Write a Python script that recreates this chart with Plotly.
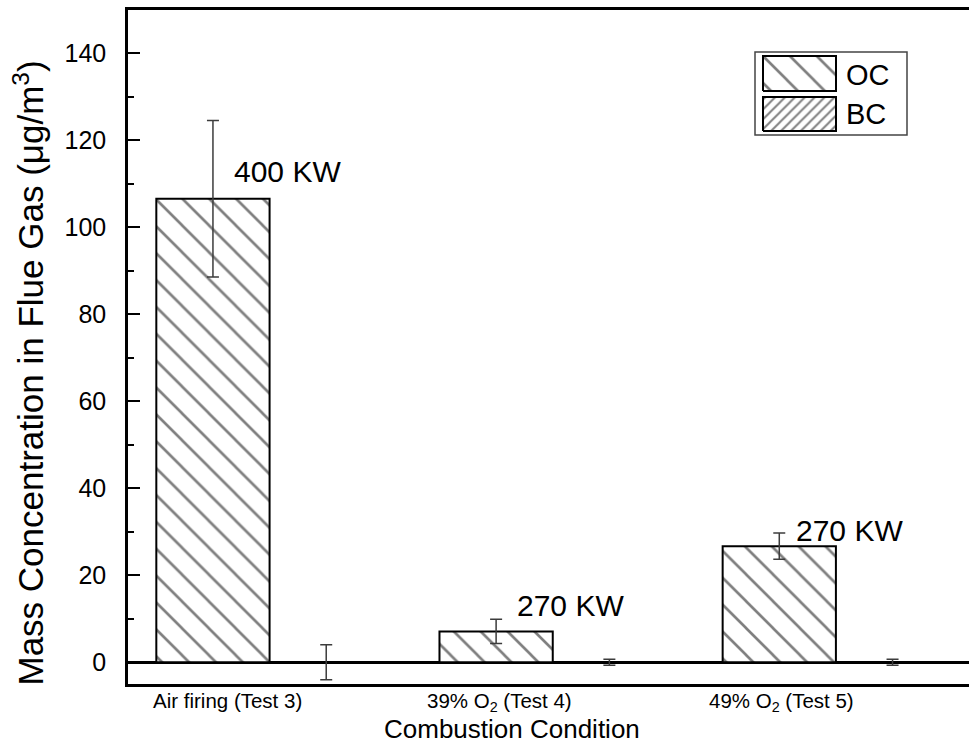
import numpy as np
import plotly.graph_objects as go

# ---- data -------------------------------------------------------------
conditions = ["Air firing (Test 3)", "39% O<sub>2</sub> (Test 4)", "49% O<sub>2</sub> (Test 5)"]
oc_values = [106.6, 7.1, 26.7]
oc_errors = [18.0, 2.8, 3.0]
bc_values = [0.0, 0.0, 0.0]
bc_errors = [4.0, 0.7, 0.7]
power_labels = ["400 KW", "270 KW", "270 KW"]

y_ticks = [0, 20, 40, 60, 80, 100, 120, 140]

# ---- styling / placement ------------------------------------------------
FONT = "Liberation Sans, Arial, sans-serif"
ERR_COLOR = "#3c3c3c"

x = np.arange(len(conditions))
label_dx = [0.05, 0.013, 0.008]          # horizontal nudge of category labels from OC bar centre
power_dx = [0.066, 0.066, 0.052]         # power label left edge relative to OC bar centre
power_y = [112.9, 13.1, 30.3]

fig = go.Figure()

fig.add_trace(go.Bar(
    x=x, y=oc_values, name="OC",
    marker=dict(color="white", line=dict(color="black", width=2),
                pattern=dict(shape="\\", size=19, solidity=0.14,
                             fgcolor="black", bgcolor="white")),
    error_y=dict(type="data", array=oc_errors, color=ERR_COLOR, thickness=1.5, width=6),
    showlegend=False,
))
fig.add_trace(go.Bar(
    x=x, y=bc_values, name="BC",
    marker=dict(color="white", line=dict(color="black", width=2),
                pattern=dict(shape="/", size=7, solidity=0.28,
                             fgcolor="black", bgcolor="white")),
    error_y=dict(type="data", array=bc_errors, color=ERR_COLOR, thickness=1.5, width=6),
    showlegend=False,
))


# legend swatches on their own small axes
def swatch(y0, y1, shape, size, solidity):
    return go.Scatter(
        x=[0, 73, 73, 0, 0], y=[y0, y0, y1, y1, y0],
        mode="lines", fill="toself", fillcolor="white",
        fillpattern=dict(shape=shape, size=size, solidity=solidity,
                         fgcolor="black", bgcolor="white"),
        line=dict(color="black", width=2),
        xaxis="x2", yaxis="y2", showlegend=False, hoverinfo="skip",
    )


fig.add_trace(swatch(40, 75, "\\", 19, 0.14))
fig.add_trace(swatch(0, 34, "/", 7, 0.28))

W, H = 969, 745
ML, MR, MT, MB = 128, 0, 10, 61
PW, PH = W - ML - MR, H - MT - MB


def px(xp):
    return (xp - ML) / PW


def py(yp):
    return (H - MB - yp) / PH


annotations = []
for i, cond in enumerate(conditions):
    annotations.append(dict(
        x=x[i] - 0.2 + label_dx[i], y=py(687), xref="x", yref="paper",
        text=cond, showarrow=False, xanchor="center", yanchor="top",
        font=dict(family=FONT, size=20.5, color="black"),
    ))
for i, lab in enumerate(power_labels):
    annotations.append(dict(
        x=x[i] - 0.2 + power_dx[i], y=power_y[i], xref="x", yref="y",
        text=lab, showarrow=False, xanchor="left", yanchor="middle",
        font=dict(family=FONT, size=30, color="black"),
    ))

annotations.append(dict(
    x=px(511.5), y=py(729), xref="paper", yref="paper",
    text="Combustion Condition", showarrow=False, xanchor="center", yanchor="middle",
    font=dict(family=FONT, size=26, color="black"),
))
annotations.append(dict(
    x=px(29), y=py(373.5), xref="paper", yref="paper", textangle=-90,
    text="Mass Concentration in Flue Gas (\u03bcg/m<sup>3</sup>)", showarrow=False,
    xanchor="center", yanchor="middle",
    font=dict(family=FONT, size=35, color="black"),
))
annotations.append(dict(
    x=px(844), y=py(75), xref="paper", yref="paper", text="OC", showarrow=False,
    xanchor="left", yanchor="middle", font=dict(family=FONT, size=29, color="black"),
))
annotations.append(dict(
    x=px(844), y=py(114), xref="paper", yref="paper", text="BC", showarrow=False,
    xanchor="left", yanchor="middle", font=dict(family=FONT, size=29, color="black"),
))

fig.update_layout(
    width=W, height=H,
    margin=dict(l=ML, r=MR, t=MT, b=MB, pad=0),
    paper_bgcolor="white", plot_bgcolor="white",
    barmode="group", bargap=0.2, bargroupgap=0,
    font=dict(family=FONT, color="black"),
    xaxis=dict(
        range=[-0.5, 2.47], showgrid=False, zeroline=False,
        showline=True, linecolor="black", linewidth=2.5, mirror=True,
        showticklabels=False, ticks="",
    ),
    yaxis=dict(
        range=[-5, 150], showgrid=False,
        zeroline=True, zerolinecolor="black", zerolinewidth=2.5,
        showline=True, linecolor="black", linewidth=2.5,
        tickvals=y_ticks, ticks="inside", ticklen=12, tickwidth=2, tickcolor="black",
        ticklabelstandoff=14,
        tickfont=dict(family=FONT, size=25, color="black"),
        minor=dict(dtick=10, tick0=0, ticks="inside", ticklen=6, tickwidth=2, tickcolor="black"),
    ),
    xaxis2=dict(domain=[px(760), px(839)], range=[-3, 76], visible=False, anchor="y2", fixedrange=True),
    yaxis2=dict(domain=[py(134), py(53)], range=[-3, 78], visible=False, anchor="x2", fixedrange=True),
    shapes=[dict(type="rect", xref="paper", yref="paper",
                 x0=px(755), x1=px(907), y0=py(135), y1=py(52),
                 line=dict(color="#444444", width=1.5), fillcolor="rgba(0,0,0,0)", layer="below")],
    annotations=annotations,
)

fig.write_html("out.html")
